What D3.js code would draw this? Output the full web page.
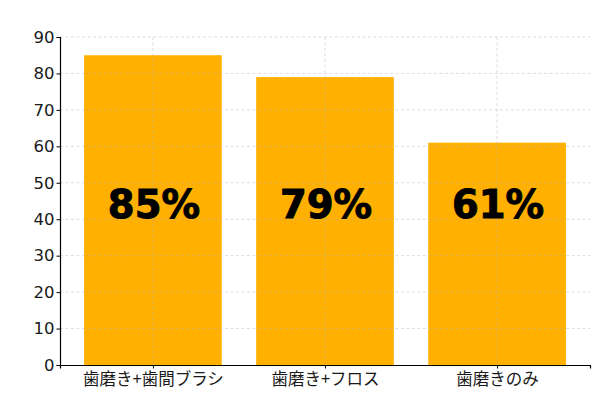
<!DOCTYPE html>
<html><head><meta charset="utf-8">
<script src="https://cdn.jsdelivr.net/npm/d3@7"></script>
<style>
html,body{margin:0;padding:0;background:#fff;}
svg{display:block;}
</style>
</head><body>
<svg id="chart" width="600" height="397"></svg>
<script>
const categories = ["歯磨き+歯間ブラシ", "歯磨き+フロス", "歯磨きのみ"];
const values = [85, 79, 61];
const labels = ["85%", "79%", "61%"];
const yTicks = [0, 10, 20, 30, 40, 50, 60, 70, 80, 90];

const svg = d3.select("#chart");
const m = {left: 60, right: 10, top: 37, bottom: 32};
const W = 600, H = 397;
const iw = W - m.left - m.right, ih = H - m.top - m.bottom;
const g = svg.append("g").attr("transform", `translate(${m.left},${m.top})`);

const x = d3.scaleLinear().domain([-0.54, 2.54]).range([0, iw]);
const y = d3.scaleLinear().domain([0, 90]).range([ih, 0]);
const bw = x(0.8) - x(0);

g.selectAll("rect.bar").data(values).join("rect")
  .attr("class", "bar")
  .attr("x", (d, i) => x(i) - bw / 2)
  .attr("y", d => y(d))
  .attr("width", bw)
  .attr("height", d => ih - y(d))
  .attr("fill", "#FFB000");

// grid on top
g.append("g").selectAll("line").data(yTicks.slice(1)).join("line")
  .attr("x1", 0).attr("x2", iw)
  .attr("y1", d => y(d)).attr("y2", d => y(d))
  .attr("stroke", "#b0b0b0").attr("stroke-opacity", 0.55)
  .attr("stroke-width", 0.8).attr("stroke-dasharray", "3,2.5");
g.append("g").selectAll("line").data(categories).join("line")
  .attr("x1", (d, i) => x(i)).attr("x2", (d, i) => x(i))
  .attr("y1", 0).attr("y2", ih)
  .attr("stroke", "#b0b0b0").attr("stroke-opacity", 0.55)
  .attr("stroke-width", 0.8).attr("stroke-dasharray", "3,2.5");

// percentages
g.selectAll("text.pct").data(labels).join("text")
  .attr("class", "pct")
  .attr("x", (d, i) => x(i) + 1)
  .attr("y", y(45))
  .attr("dy", "0.44em")
  .attr("text-anchor", "middle")
  .style("font-family", "'DejaVu Sans'")
  .style("font-weight", "bold")
  .style("font-size", "38.5px")
  .attr("fill", "#000")
  .attr("stroke", "#000")
  .attr("stroke-width", 1)
  .text(d => d);

// axes
const yAxis = d3.axisLeft(y).tickValues(yTicks).tickSize(3.5).tickPadding(2);
const ya = g.append("g").call(yAxis);
ya.selectAll("text").style("font-family", "'DejaVu Sans'").style("font-size", "16.5px").attr("fill", "#1a1a1a");
ya.select(".domain").attr("stroke", "#000").attr("stroke-width", 1.2);
ya.selectAll(".tick line").attr("stroke", "#000");

const xAxis = d3.axisBottom(x).tickValues([0, 1, 2]).tickFormat((d, i) => categories[i]).tickSize(3.5).tickPadding(5);
const xa = g.append("g").attr("transform", `translate(0,${ih})`).call(xAxis);
xa.selectAll("text").style("font-family", "'Noto Sans CJK JP'").style("font-size", "16.5px").attr("fill", "#1a1a1a");
xa.select(".domain").attr("stroke", "#000").attr("stroke-width", 1.2);
xa.selectAll(".tick line").attr("stroke", "#000");
</script>
</body></html>
